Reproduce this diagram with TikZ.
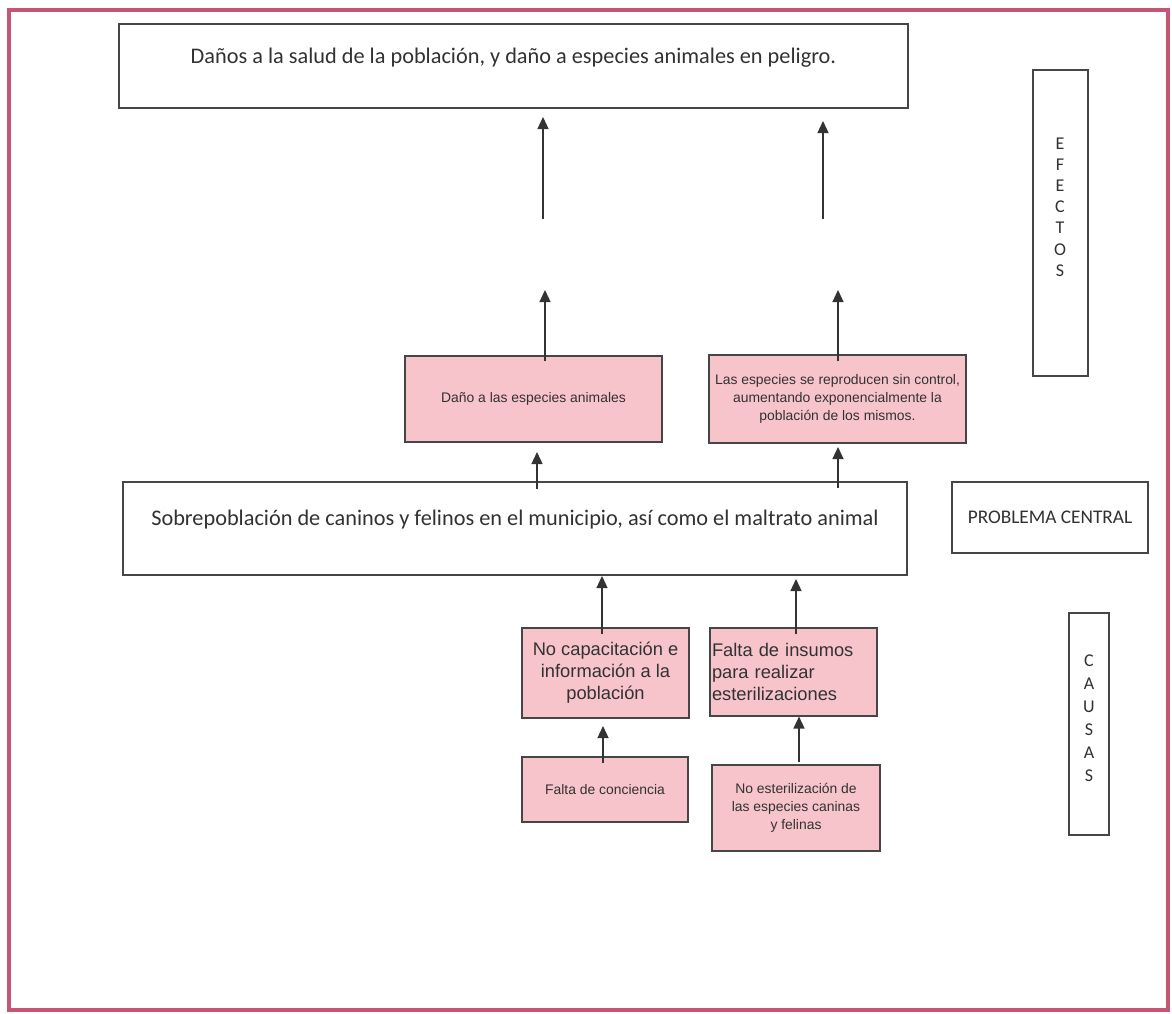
\documentclass[tikz,border=0pt]{standalone}
\usepackage{fontspec}
\setmainfont{Carlito}
\newfontfamily\arialf{Liberation Sans}
\usetikzlibrary{arrows.meta,calc}
\definecolor{framec}{RGB}{198,86,116}
\definecolor{pinkc}{RGB}{247,196,203}
\definecolor{linec}{RGB}{70,70,70}
\definecolor{txtc}{RGB}{50,50,50}
\tikzset{
  box/.style={draw=linec, line width=1.3pt, inner sep=0pt, fill=white},
  pbox/.style={draw=linec, line width=1.1pt, inner sep=0pt, fill=pinkc, text=txtc},
  bigtxt/.style={text=txtc, inner sep=0pt, font=\fontsize{22.3}{26}\selectfont},
  smalltxt/.style={align=center, font=\arialf\fontsize{13.9}{18}\selectfont},
  midtxt/.style={font=\arialf\fontsize{18.3}{22}\selectfont},
  arr/.style={draw=black!80, line width=1.3pt, -{Triangle[width=11pt,length=12pt]}},
}
\begin{document}
\begin{tikzpicture}[x=1pt,y=-1pt]
\useasboundingbox (0,0) rectangle (1172,1013);
\fill[white] (0,0) rectangle (1172,1013);
\draw[framec, line width=4pt] (9,10) rectangle (1168,1010);

% top effect box
\node[box, minimum width=789pt, minimum height=84pt] (top) at (513.5,66) {};
\node[bigtxt] (toptxt) at (513.5,58) {Daños a la salud de la población, y daño a especies animales en peligro.};

% side labels
\node[box, minimum width=55pt, minimum height=306pt] (efectos) at (1060.5,223) {};
\node[text=txtc, inner sep=0pt, align=center, font=\fontsize{18}{21.2}\selectfont] (efectostxt) at (1060,207) {E\\F\\E\\C\\T\\O\\S};
\node[box, minimum width=196pt, minimum height=71pt, text=txtc, font=\fontsize{19.3}{22}\selectfont] (pc) at (1050,517.5) {PROBLEMA CENTRAL};
\node[box, minimum width=40pt, minimum height=222pt] (causas) at (1089,724) {};
\node[text=txtc, inner sep=0pt, align=center, font=\fontsize{18}{23}\selectfont] (causastxt) at (1089,718) {C\\A\\U\\S\\A\\S};

% central problem
\node[box, minimum width=784pt, minimum height=93pt] (main) at (515,528.5) {};
\node[bigtxt] (maintxt) at (515,520) {Sobrepoblación de caninos y felinos en el municipio, así como el maltrato animal};

% pink effect boxes
\node[pbox, minimum width=257pt, minimum height=86pt, smalltxt] (p1) at (533.5,399) {Daño a las especies animales};
\node[pbox, minimum width=257pt, minimum height=88pt, smalltxt] (p2) at (837.5,399) {Las especies se reproducen sin control,\\aumentando exponencialmente la\\población de los mismos.};

% pink cause boxes
\node[pbox, minimum width=167pt, minimum height=90pt, midtxt, align=center] (p3) at (605.5,673) {No capacitación e\\información a la\\población};
\node[pbox, minimum width=167pt, minimum height=88pt, midtxt, align=left, text width=163pt] (p4) at (793.5,672) {Falta de insumos\\para realizar\\esterilizaciones};
\node[pbox, minimum width=166pt, minimum height=65pt, smalltxt] (p5) at (605,789.5) {Falta de conciencia};
\node[pbox, minimum width=168pt, minimum height=86pt, smalltxt] (p6) at (796,808) {No esterilización de\\las especies caninas\\y felinas};

% arrow coordinates
\coordinate (t1s) at (543,219);
\coordinate (t1e) at (543,117);
\coordinate (t2s) at (823,219);
\coordinate (t2e) at (823,121);
\coordinate (m1e) at (545,290);
\coordinate (m2e) at (838,290);
\coordinate (c1e) at (537,452);
\coordinate (c2e) at (838,447);
\coordinate (d1e) at (602,576);
\coordinate (d2e) at (796,579);
\coordinate (e1e) at (603,726);
\coordinate (e2s) at (799,762);

% arrows
\draw[arr] (t1s) -- (t1e);
\draw[arr] (t2s) -- (t2e);
\draw[arr] ($(p1.north -| m1e)+(0,6)$) -- (m1e);
\draw[arr] ($(p2.north -| m2e)+(0,7)$) -- (m2e);
\draw[arr] ($(main.north -| c1e)+(0,8)$) -- (c1e);
\draw[arr] ($(main.north -| c2e)+(0,7)$) -- (c2e);
\draw[arr] ($(p3.north -| d1e)+(0,7)$) -- (d1e);
\draw[arr] ($(p4.north -| d2e)+(0,7)$) -- (d2e);
\draw[arr] ($(p5.north -| e1e)+(0,7)$) -- (e1e);
\draw[arr] (e2s) -- (p4.south -| e2s);
\end{tikzpicture}
\end{document}
